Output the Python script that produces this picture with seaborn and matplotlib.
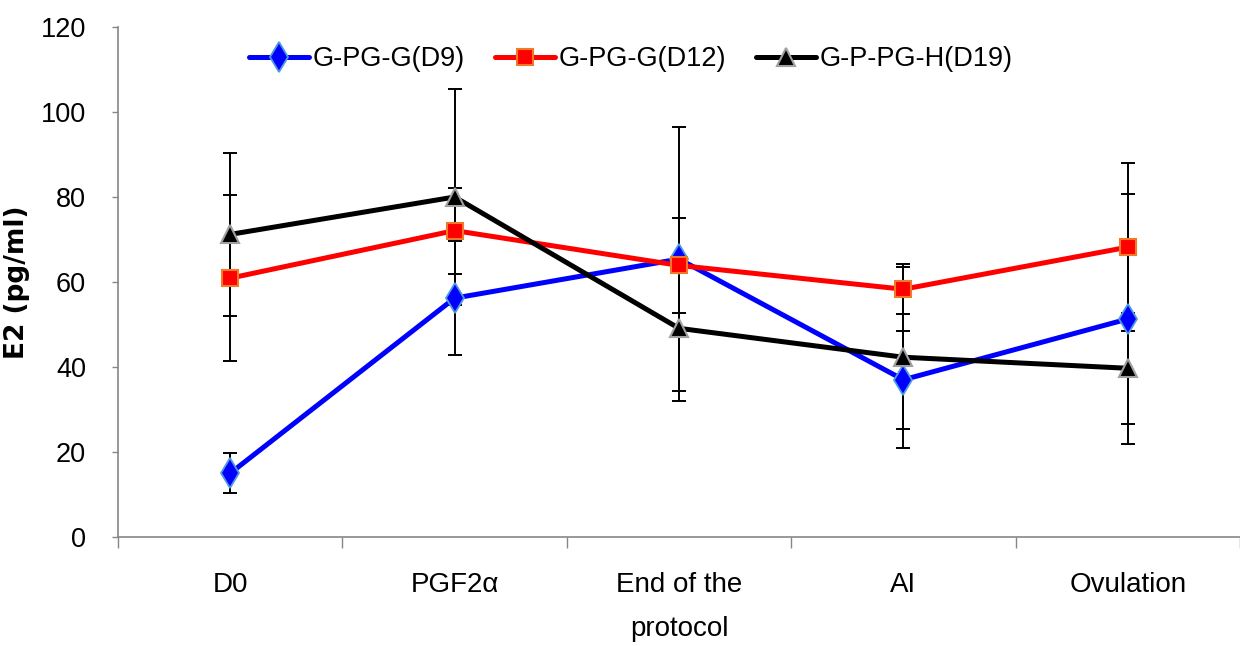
import numpy as np
import pandas as pd
import matplotlib
matplotlib.use("Agg")
import matplotlib.pyplot as plt
import seaborn as sns

# ---------------- data ----------------
stages = ["D0", "PGF2α", "End of the\nprotocol", "AI", "Ovulation"]
series_names = ["G-PG-G(D9)", "G-PG-G(D12)", "G-P-PG-H(D19)"]

d9_mean = [15.0, 56.2, 65.4, 37.0, 51.3]
d9_err = [4.7, 13.4, 31.0, 11.5, 29.5]

d12_mean = [60.9, 72.1, 63.9, 58.3, 68.2]
d12_err = [19.6, 10.1, 11.1, 5.9, 19.7]

d19_mean = [71.2, 80.0, 49.1, 42.3, 39.7]
d19_err = [19.2, 25.4, 17.0, 21.3, 13.0]

y_ticks = [0, 20, 40, 60, 80, 100, 120]

# ---------------- style ----------------
sns.set_style("white")
plt.rcParams["font.family"] = ["Liberation Sans", "DejaVu Sans"]
plt.rcParams["text.color"] = "black"
plt.rcParams["axes.labelcolor"] = "black"
plt.rcParams["xtick.color"] = "black"
plt.rcParams["ytick.color"] = "black"

df = pd.DataFrame({
    "stage": stages * 3,
    "E2": d9_mean + d12_mean + d19_mean,
    "err": d9_err + d12_err + d19_err,
    "group": [n for n in series_names for _ in stages],
})

styles = {
    "G-PG-G(D9)": dict(color="#0000FF", marker="d", markersize=15,
                       markeredgecolor="#4F9BE0", markeredgewidth=1.3),
    "G-PG-G(D12)": dict(color="#FF0000", marker="s", markersize=12,
                        markeredgecolor="#F07A28", markeredgewidth=1.5),
    "G-P-PG-H(D19)": dict(color="#000000", marker="^", markersize=13,
                          markeredgecolor="#A0A0A0", markeredgewidth=1.5),
}

fig = plt.figure(figsize=(12.4, 6.46), dpi=100)
ax = fig.add_axes([118 / 1240, 1 - 537 / 646, 1 - 118 / 1240, (537 - 27) / 646])

# error bars first (behind lines/markers)
for name in series_names:
    sub = df[df["group"] == name]
    ax.errorbar(sub["stage"], sub["E2"], yerr=sub["err"], fmt="none",
                ecolor="black", elinewidth=1.4, capsize=4.8, capthick=1.4,
                zorder=1)

for i, name in enumerate(series_names):
    sub = df[df["group"] == name]
    sns.lineplot(data=sub, x="stage", y="E2", ax=ax, sort=False,
                 linewidth=3.6, label=name, zorder=3 + i, **styles[name])

ax.set_ylim(0, 120)
ax.set_xlim(-0.5, len(stages) - 0.5)
ax.set_yticks(y_ticks)
ax.set_xticks(range(len(stages)))
ax.set_xticklabels(stages)
ax.set_xticks(np.arange(-0.5, len(stages), 1.0), minor=True)

ax.tick_params(axis="x", which="major", length=0, pad=25, labelsize=20,
               labelcolor="black")
ax.tick_params(axis="x", which="minor", length=8, width=1.0, color="#868686",
               direction="out", bottom=True)
ax.tick_params(axis="y", which="major", length=4, width=1.0, color="#868686",
               direction="out", left=True, pad=19, labelsize=19.5,
               labelcolor="black")
for lbl in ax.get_xticklabels():
    lbl.set_linespacing(1.9)

for side in ["top", "right"]:
    ax.spines[side].set_visible(False)
for side in ["left", "bottom"]:
    ax.spines[side].set_color("#868686")
    ax.spines[side].set_linewidth(1.2)

ax.set_xlabel("")
ax.set_ylabel("E2 (pg/ml)", fontsize=19, fontweight="bold",
              family=["DejaVu Sans"], color="black")
ax.yaxis.set_label_coords((30 - 118) / 1122, 0.5)

handles, labels = ax.get_legend_handles_labels()
ax.legend(handles, labels, loc="center",
          bbox_to_anchor=(631 / 1240, 1 - 59 / 646),
          bbox_transform=fig.transFigure, ncol=3, frameon=False,
          fontsize=19.5, handlelength=2.2, handletextpad=0.15,
          columnspacing=1.1, numpoints=1)

fig.savefig("out.png", dpi=100)
